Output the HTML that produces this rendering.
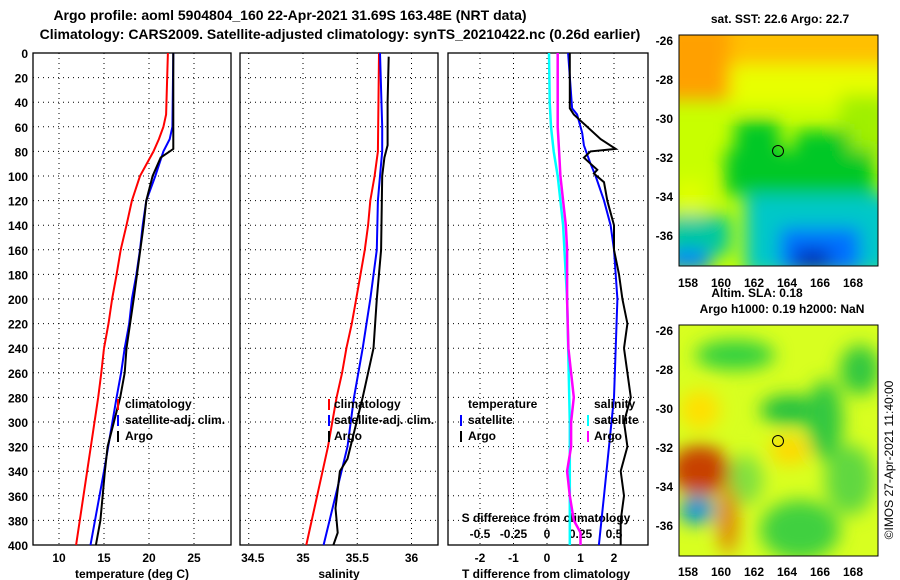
<!DOCTYPE html>
<html><head><meta charset="utf-8"><style>
body{margin:0;background:#fff}
svg{display:block;font-family:"Liberation Sans",sans-serif;font-weight:bold}
</style></head><body>
<svg id="s" width="900" height="580" xmlns="http://www.w3.org/2000/svg">
<defs><filter id="bl" x="-20%" y="-20%" width="140%" height="140%"><feGaussianBlur stdDeviation="9"/></filter>
<clipPath id="c1"><rect x="679" y="35" width="199" height="231"/></clipPath>
<clipPath id="c2"><rect x="679" y="325" width="199" height="231"/></clipPath></defs>
<text x="290" y="20" font-size="14" text-anchor="middle">Argo profile: aoml 5904804_160 22-Apr-2021 31.69S 163.48E (NRT data)</text>
<text x="340" y="39" font-size="14" text-anchor="middle">Climatology: CARS2009. Satellite-adjusted climatology: synTS_20210422.nc (0.26d earlier)</text>
<g clip-path="url(#c1)">
<rect x="679" y="35" width="199" height="231" fill="#c8ff00"/>
<g filter="url(#bl)">
<rect x="660" y="20" width="240" height="45" fill="#ffc000"/>
<rect x="660" y="20" width="70" height="80" fill="#ffa000"/>
<rect x="730" y="65" width="170" height="40" fill="#e8ff00"/>
<rect x="840" y="95" width="50" height="60" fill="#a0f000"/>
<rect x="725" y="150" width="150" height="45" fill="#00c828"/>
<rect x="735" y="120" width="45" height="40" fill="#00c828"/>
<rect x="795" y="130" width="55" height="30" fill="#00c828"/>
<rect x="745" y="195" width="150" height="80" fill="#00c8c8"/>
<rect x="665" y="215" width="65" height="40" fill="#00c8a0"/>
<rect x="780" y="228" width="80" height="45" fill="#0070ff"/>
<rect x="665" y="250" width="45" height="20" fill="#0080ff"/>
<rect x="795" y="250" width="35" height="20" fill="#0020b0"/>
<rect x="675" y="180" width="30" height="35" fill="#e0ff00"/>
</g></g>
<rect x="679" y="35" width="199" height="231" fill="none" stroke="#000"/>
<circle cx="778" cy="151" r="5.5" fill="none" stroke="#000"/>
<g clip-path="url(#c2)">
<rect x="679" y="325" width="199" height="231" fill="#d8ff20"/>
<g filter="url(#bl)">
<ellipse cx="735" cy="355" rx="40" ry="15" fill="#30d040"/>
<ellipse cx="790" cy="410" rx="30" ry="15" fill="#20c040"/>
<ellipse cx="825" cy="420" rx="18" ry="40" fill="#30c840"/>
<ellipse cx="860" cy="370" rx="20" ry="25" fill="#30c840"/>
<ellipse cx="850" cy="480" rx="25" ry="35" fill="#60d840"/>
<ellipse cx="800" cy="530" rx="40" ry="30" fill="#40d040"/>
<ellipse cx="745" cy="480" rx="18" ry="25" fill="#80e040"/>
<ellipse cx="700" cy="470" rx="30" ry="25" fill="#c84000"/>
<ellipse cx="728" cy="520" rx="10" ry="35" fill="#e08000"/>
<ellipse cx="697" cy="510" rx="18" ry="14" fill="#0090e0"/>
<ellipse cx="790" cy="450" rx="20" ry="15" fill="#ffd800"/>
<ellipse cx="700" cy="410" rx="20" ry="20" fill="#ffe000"/>
</g></g>
<rect x="679" y="325" width="199" height="231" fill="none" stroke="#000"/>
<circle cx="778" cy="441" r="5.5" fill="none" stroke="#000"/>
<text x="780" y="23" font-size="12" text-anchor="middle">sat. SST: 22.6 Argo: 22.7</text>
<text x="757" y="297" font-size="12" text-anchor="middle">Altim. SLA: 0.18</text>
<text x="782" y="313" font-size="12" text-anchor="middle">Argo h1000: 0.19 h2000: NaN</text>
<text transform="translate(893,460) rotate(-90)" font-size="12" font-weight="normal" text-anchor="middle">©IMOS 27-Apr-2021 11:40:00</text>
<g id="g"></g>
</svg>
<script>
const depthTicks=[0,20,40,60,80,100,120,140,160,180,200,220,240,260,280,300,320,340,360,380,400];
const tempTicks=[10,15,20,25];
const salTicks=[34.5,35,35.5,36];
const tdiffTicks=[-2,-1,0,1,2];
const sdiffTicks=[-0.5,-0.25,0,0.25,0.5];
const latTicks=[-26,-28,-30,-32,-34,-36];
const lonTicks=[158,160,162,164,166,168];
const tClimDepth=[0,50,60,70,80,100,120,140,160,180,200,220,240,260,280,400];
const tClimVal=[22.1,21.9,21.6,21.1,20.5,19.0,18.1,17.5,16.85,16.4,15.9,15.5,15.0,14.7,14.35,11.9];
const tSatDepth=[0,60,70,80,100,120,140,160,180,200,220,240,260,280,340,400];
const tSatVal=[22.7,22.6,22.3,21.6,20.7,19.7,19.3,19.0,18.6,18.1,17.8,17.3,16.9,16.4,15.0,13.5];
const tArgoDepth=[0,78,80,85,100,120,140,200,220,240,260,280,320,340,380,400];
const tArgoVal=[22.7,22.7,22.3,21.3,20.4,19.7,19.4,18.3,17.9,17.5,17.3,16.8,15.4,15.1,14.6,14.1];
const sClimDepth=[0,80,100,120,140,160,180,200,220,240,260,280,320,400];
const sClimVal=[35.70,35.69,35.66,35.62,35.60,35.57,35.53,35.49,35.45,35.40,35.36,35.31,35.23,35.03];
const sSatDepth=[0,60,80,100,120,160,200,240,280,320,400];
const sSatVal=[35.71,35.73,35.73,35.71,35.69,35.68,35.62,35.55,35.47,35.41,35.19];
const sArgoDepth=[3,40,75,85,100,160,200,240,260,280,330,340,370,390,400];
const sArgoVal=[35.79,35.78,35.78,35.75,35.73,35.72,35.68,35.65,35.60,35.55,35.41,35.34,35.30,35.32,35.28];
const dtSatDepth=[0,45,50,60,65,75,90,100,120,140,160,200,240,280,320,360,400];
const dtSatVal=[0.63,0.75,0.9,1.0,1.05,1.1,1.3,1.45,1.7,1.9,2.0,2.1,2.05,2.0,1.85,1.7,1.55];
const dtArgoDepth=[0,45,50,55,60,70,78,80,85,90,95,98,105,120,140,160,180,200,220,240,260,280,300,320,340,360,380,400];
const dtArgoVal=[0.68,0.68,0.8,1.0,1.2,1.6,2.05,1.3,1.1,1.3,1.5,1.4,1.7,1.8,2.0,2.0,2.15,2.25,2.4,2.3,2.4,2.5,2.3,2.4,2.2,2.3,2.2,2.2];
const dsSatDepth=[0,40,60,80,100,140,200,300,400];
const dsSatVal=[0.015,0.02,0.03,0.05,0.08,0.12,0.15,0.17,0.17];
const dsArgoDepth=[0,60,80,100,140,160,200,240,280,300,320,340,360,380,390,400];
const dsArgoVal=[0.08,0.08,0.09,0.1,0.14,0.15,0.15,0.16,0.2,0.18,0.18,0.15,0.17,0.2,0.25,0.25];
const NS='http://www.w3.org/2000/svg',G=document.getElementById('g');
const TOP=53,BOT=545;
const yD=d=>TOP+d*(BOT-TOP)/400;
const xT=v=>59+(v-10)*9;
const xS=v=>303+(v-35)*108.5;
const xDT=v=>547+v*33.5;
const xDS=v=>547+v*134;
function el(t,a,txt){const e=document.createElementNS(NS,t);for(const k in a)e.setAttribute(k,a[k]);if(txt!==undefined)e.textContent=txt;G.appendChild(e);return e;}
function panel(x0,x1,name,vt,xf){
  const r=el('rect',{x:x0,y:TOP,width:x1-x0,height:BOT-TOP,fill:'none',stroke:'#000','stroke-width':1.3});
  
  
  depthTicks.forEach(d=>{const l=el('line',{x1:x0,x2:x1,y1:yD(d),y2:yD(d),stroke:'#000','stroke-dasharray':'1,4'});
    
    });
  vt.forEach(v=>{const l=el('line',{x1:xf(v),x2:xf(v),y1:TOP,y2:BOT,stroke:'#000','stroke-dasharray':'1,4'});
    
    });
}
panel(33,231,'temperature-panel',tempTicks,xT);
panel(240,438,'salinity-panel',salTicks,xS);
panel(448,648,'difference-panel',tdiffTicks,xDT);
depthTicks.forEach(d=>{const t=el('text',{x:28,y:yD(d)+5,'font-size':12,'text-anchor':'end'},d);
  
  });
tempTicks.forEach(v=>{const t=el('text',{x:xT(v),y:562,'font-size':12,'text-anchor':'middle'},v);
  
  });
salTicks.forEach(v=>{const t=el('text',{x:xS(v)+(v==34.5?4:0),y:562,'font-size':12,'text-anchor':'middle'},v);
  
  });
tdiffTicks.forEach(v=>{const t=el('text',{x:xDT(v),y:562,'font-size':12,'text-anchor':'middle'},v);
  
  });
sdiffTicks.forEach(v=>{const t=el('text',{x:xDS(v),y:538,'font-size':12,'text-anchor':'middle'},v);
  
  });
[[132,'temperature (deg C)'],[339,'salinity'],[546,'T difference from climatology']].forEach(a=>{
  const t=el('text',{x:a[0],y:578,'font-size':12,'text-anchor':'middle'},a[1]);
  
  });
{const t=el('text',{x:546,y:522,'font-size':12,'text-anchor':'middle'},'S difference from climatology');
 
 }
function series(dep,val,xf,col,name,w){
  const p=dep.map((d,i)=>xf(val[i]).toFixed(1)+','+yD(d).toFixed(1)).join(' ');
  const l=el('polyline',{points:p,fill:'none',stroke:col,'stroke-width':w||2});
  
  
}
series(tClimDepth,tClimVal,xT,'#f00','temperature-climatology-line');
series(tSatDepth,tSatVal,xT,'#00f','temperature-satellite-line');
series(tArgoDepth,tArgoVal,xT,'#000','temperature-argo-line');
series(sClimDepth,sClimVal,xS,'#f00','salinity-climatology-line');
series(sSatDepth,sSatVal,xS,'#00f','salinity-satellite-line');
series(sArgoDepth,sArgoVal,xS,'#000','salinity-argo-line');
series(dsSatDepth,dsSatVal,xDS,'#0ff','sdiff-satellite-line',2.5);
series(dsArgoDepth,dsArgoVal,xDS,'#f0f','sdiff-argo-line',2.5);
series(dtSatDepth,dtSatVal,xDT,'#00f','tdiff-satellite-line');
series(dtArgoDepth,dtArgoVal,xDT,'#000','tdiff-argo-line');
function legend(mx,tx,y,col,txt){
  if(col){const l=el('line',{x1:mx,x2:mx,y1:y-9,y2:y+2,stroke:col,'stroke-width':2});
    
    }
  const t=el('text',{x:tx,y:y,'font-size':12},txt);
  
  
}
legend(118,125,408,'#f00','climatology');legend(118,125,424,'#00f','satellite-adj. clim.');legend(118,125,440,'#000','Argo');
legend(329,334,408,'#f00','climatology');legend(329,334,424,'#00f','satellite-adj. clim.');legend(329,334,440,'#000','Argo');
legend(0,468,408,null,'temperature');legend(461,468,424,'#00f','satellite');legend(461,468,440,'#000','Argo');
legend(0,594,408,null,'salinity');legend(588,594,424,'#0ff','satellite');legend(588,594,440,'#f0f','Argo');
const latY1=v=>40+(-26-v)*19.5, latY2=v=>330+(-26-v)*19.5, lonX=v=>688+(v-158)*16.5;
latTicks.forEach(v=>{[latY1(v),latY2(v)].forEach(y=>{const t=el('text',{x:673,y:y+5,'font-size':12,'text-anchor':'end'},v);
  
  });});
lonTicks.forEach(v=>{[287,576].forEach(y=>{const t=el('text',{x:lonX(v),y:y,'font-size':12,'text-anchor':'middle'},v);
  
  });});
</script>
</body></html>
